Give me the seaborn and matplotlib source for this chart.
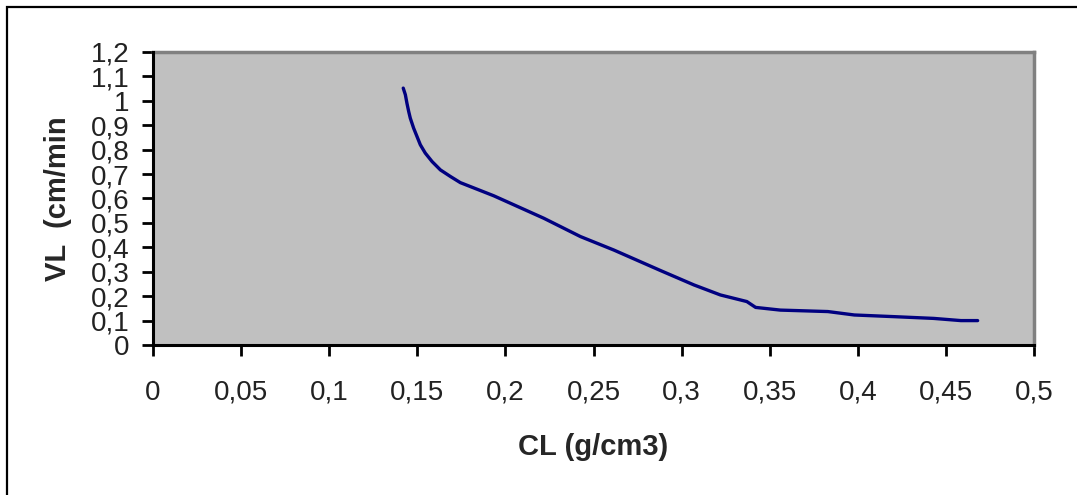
import pandas as pd
from matplotlib import pyplot as plt
from matplotlib.patches import Rectangle
from matplotlib.ticker import FuncFormatter
import seaborn as sns
import numpy as np

# values
cl = [0.142, 0.1432, 0.1441, 0.1451, 0.146, 0.1479, 0.1498, 0.1517, 0.1545,
      0.1584, 0.1631, 0.1688, 0.1744, 0.1934, 0.2218, 0.2426,
      0.2615, 0.288, 0.307, 0.322, 0.337, 0.342, 0.356, 0.383, 0.398, 0.421,
      0.443, 0.4585, 0.468]
vl = [1.052, 1.025, 0.990, 0.956, 0.929, 0.888, 0.854, 0.820, 0.786,
      0.751, 0.717, 0.690, 0.665, 0.611, 0.519, 0.444,
      0.389, 0.305, 0.246, 0.205, 0.178, 0.154, 0.143, 0.137, 0.123, 0.116,
      0.109, 0.100, 0.100]
x_ticks = [0, 0.05, 0.1, 0.15, 0.2, 0.25, 0.3, 0.35, 0.4, 0.45, 0.5]
y_ticks = [0, 0.1, 0.2, 0.3, 0.4, 0.5, 0.6, 0.7, 0.8, 0.9, 1.0, 1.1, 1.2]

df = pd.DataFrame({"CL": cl, "VL": vl})

sns.set_style("white")
plt.rcParams['font.family'] = ['Liberation Sans', 'DejaVu Sans']

fig = plt.figure(figsize=(10.77, 4.95), dpi=100)
ax = fig.add_axes([0.1421, 0.303, 0.818, 0.592])
ax.set_facecolor('#c0c0c0')

sns.lineplot(x='CL', y='VL', data=df, estimator=None, sort=False,
             color='#000080', linewidth=2.4, ax=ax)

ax.set_xlim(0, 0.5)
ax.set_ylim(0, 1.2)
ax.set_xticks(x_ticks)
ax.set_yticks(y_ticks)
fmt = FuncFormatter(lambda v, p: ('%g' % round(v, 3)).replace('.', ','))
ax.xaxis.set_major_formatter(fmt)
ax.yaxis.set_major_formatter(fmt)

for s in ['left', 'bottom']:
    ax.spines[s].set_color('black')
    ax.spines[s].set_linewidth(2.2)
for s in ['top', 'right']:
    ax.spines[s].set_color('#808080')
    ax.spines[s].set_linewidth(2.5)
ax.spines['left'].set_zorder(5)
ax.spines['bottom'].set_zorder(5)

ax.tick_params(axis='x', direction='out', length=8, width=2, color='black',
               labelsize=20, pad=17, bottom=True)
ax.tick_params(axis='y', direction='out', length=8, width=2, color='black',
               labelsize=20, pad=9, left=True)
for lab in ax.get_xticklabels() + ax.get_yticklabels():
    lab.set_color('#222222')

ax.set_xlabel("CL (g/cm3)", fontsize=21, fontweight='bold')
ax.set_ylabel("VL  (cm/min", fontsize=21, fontweight='bold')
ax.xaxis.set_label_coords(0.5, -0.3)
ax.yaxis.set_label_coords(-0.092, 0.5)

# outer chart frame (only top and left edges fall inside the picture)
fig.patches.append(Rectangle((7 / 1077, -0.1), 1.2, (495 - 7) / 495 + 0.1,
                             transform=fig.transFigure, fill=False,
                             edgecolor='black', linewidth=1.6))

plt.savefig("out.png", dpi=100)
